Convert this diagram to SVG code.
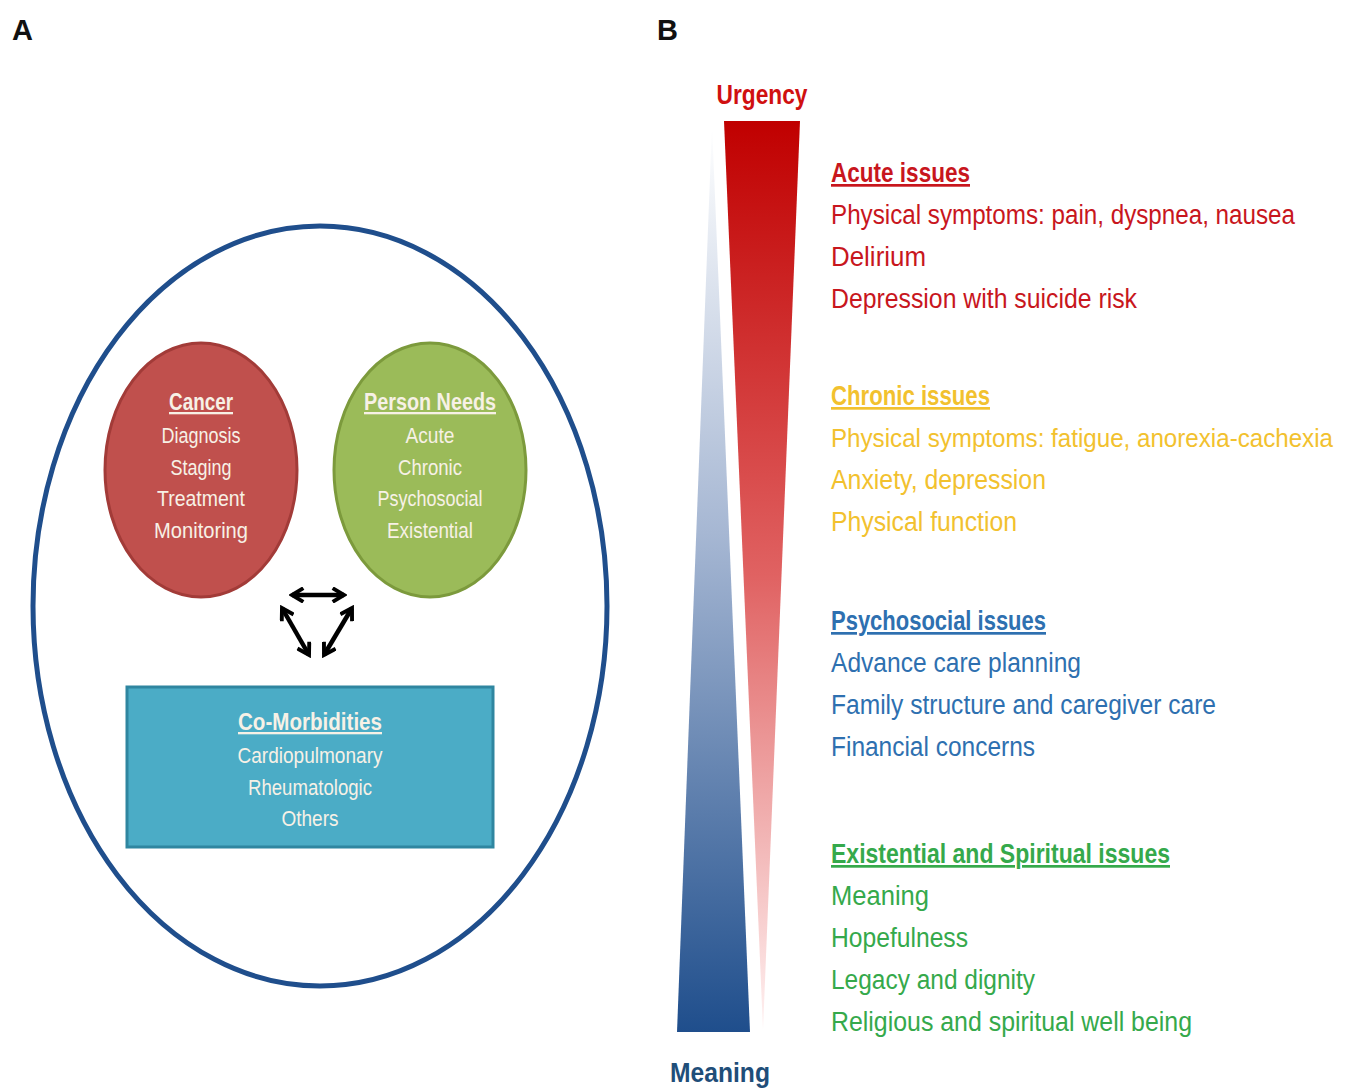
<svg xmlns="http://www.w3.org/2000/svg" width="1358" height="1088" viewBox="0 0 1358 1088">
<defs>
<linearGradient id="redG" x1="0" y1="0" x2="0" y2="1">
<stop offset="0" stop-color="#C00000"/>
<stop offset="0.5" stop-color="#E06262"/>
<stop offset="1" stop-color="#FFF2F2"/>
</linearGradient>
<linearGradient id="blueG" x1="0" y1="0" x2="0" y2="1">
<stop offset="0" stop-color="#FFFFFF"/>
<stop offset="0.45" stop-color="#A6B7D3"/>
<stop offset="1" stop-color="#1F4E8C"/>
</linearGradient>
<marker id="chev" viewBox="0 0 10 10" refX="8" refY="5" markerWidth="3.6" markerHeight="3.6" orient="auto-start-reverse">
<path d="M1,0.8 L8,5 L1,9.2" fill="none" stroke="#000" stroke-width="2.4" stroke-linejoin="miter"/>
</marker>
<style>
text{font-family:"Liberation Sans",Arial,sans-serif}
.lbl{font-weight:bold;font-size:29px;fill:#111}
.wt{fill:#F7F1E6;font-size:22px;text-anchor:middle}
.wth{fill:#F7F1E6;font-size:23px;text-anchor:middle;font-weight:bold;text-decoration:underline}
.r{font-size:27px}
.h{text-decoration:underline;font-weight:bold}
.red{fill:#C8161D}
.gold{fill:#F2C12E}
.blue{fill:#2E70B0}
.green{fill:#35A94B}
</style>
</defs>
<rect width="1358" height="1088" fill="#FFFFFF"/>

<text class="lbl" x="12" y="40">A</text>
<text class="lbl" x="657" y="40">B</text>

<g id="frame">
<ellipse cx="320" cy="606" rx="287" ry="380" fill="none" stroke="#1F4E8C" stroke-width="5"/>
</g>

<g id="cancer">
<ellipse cx="201" cy="470" rx="96" ry="127" fill="#C0504D" stroke="#A23B38" stroke-width="3"/>
<text class="wth" x="201" y="410" textLength="64" lengthAdjust="spacingAndGlyphs">Cancer</text>
<text class="wt" x="201" y="443" textLength="79" lengthAdjust="spacingAndGlyphs">Diagnosis</text>
<text class="wt" x="201" y="475" textLength="61" lengthAdjust="spacingAndGlyphs">Staging</text>
<text class="wt" x="201" y="506" textLength="88" lengthAdjust="spacingAndGlyphs">Treatment</text>
<text class="wt" x="201" y="538" textLength="94" lengthAdjust="spacingAndGlyphs">Monitoring</text>
</g>

<g id="person-needs">
<ellipse cx="430" cy="470" rx="96" ry="127" fill="#9BBB59" stroke="#7C9A3C" stroke-width="3"/>
<text class="wth" x="430" y="410" textLength="132" lengthAdjust="spacingAndGlyphs">Person Needs</text>
<text class="wt" x="430" y="443" textLength="49" lengthAdjust="spacingAndGlyphs">Acute</text>
<text class="wt" x="430" y="475" textLength="64" lengthAdjust="spacingAndGlyphs">Chronic</text>
<text class="wt" x="430" y="506" textLength="105" lengthAdjust="spacingAndGlyphs">Psychosocial</text>
<text class="wt" x="430" y="538" textLength="86" lengthAdjust="spacingAndGlyphs">Existential</text>
</g>

<g id="comorbidities">
<rect x="127" y="687" width="366" height="160" fill="#4BACC6" stroke="#2F86A0" stroke-width="3"/>
<text class="wth" x="310" y="730" textLength="144" lengthAdjust="spacingAndGlyphs">Co-Morbidities</text>
<text class="wt" x="310" y="763" textLength="145" lengthAdjust="spacingAndGlyphs">Cardiopulmonary</text>
<text class="wt" x="310" y="795" textLength="124" lengthAdjust="spacingAndGlyphs">Rheumatologic</text>
<text class="wt" x="310" y="826" textLength="57" lengthAdjust="spacingAndGlyphs">Others</text>
</g>

<g id="connectors" stroke="#000" stroke-width="4.5" fill="none">
<line x1="292" y1="595" x2="344" y2="595" marker-start="url(#chev)" marker-end="url(#chev)"/>
<line x1="282" y1="608" x2="309" y2="655" marker-start="url(#chev)" marker-end="url(#chev)"/>
<line x1="352" y1="608" x2="324" y2="655" marker-start="url(#chev)" marker-end="url(#chev)"/>
</g>

<g id="scale">
<polygon points="712,125 750,1032 677,1032" fill="url(#blueG)"/>
<polygon points="724,121 800,121 763,1030" fill="url(#redG)"/>
<text x="762" y="104" text-anchor="middle" font-weight="bold" font-size="27" fill="#D01010" textLength="91" lengthAdjust="spacingAndGlyphs">Urgency</text>
<text x="720" y="1082" text-anchor="middle" font-weight="bold" font-size="27" fill="#1F4E79" textLength="100" lengthAdjust="spacingAndGlyphs">Meaning</text>
</g>

<g id="acute" class="r red">
<text class="h" x="831" y="182" textLength="139" lengthAdjust="spacingAndGlyphs">Acute issues</text>
<text x="831" y="224" textLength="464" lengthAdjust="spacingAndGlyphs">Physical symptoms: pain, dyspnea, nausea</text>
<text x="831" y="266" textLength="95" lengthAdjust="spacingAndGlyphs">Delirium</text>
<text x="831" y="308" textLength="306" lengthAdjust="spacingAndGlyphs">Depression with suicide risk</text>
</g>

<g id="chronic" class="r gold">
<text class="h" x="831" y="405" textLength="159" lengthAdjust="spacingAndGlyphs">Chronic issues</text>
<text x="831" y="447" font-size="25" textLength="502" lengthAdjust="spacingAndGlyphs">Physical symptoms: fatigue, anorexia-cachexia</text>
<text x="831" y="489" textLength="215" lengthAdjust="spacingAndGlyphs">Anxiety, depression</text>
<text x="831" y="531" textLength="186" lengthAdjust="spacingAndGlyphs">Physical function</text>
</g>

<g id="psychosocial" class="r blue">
<text class="h" x="831" y="630" textLength="215" lengthAdjust="spacingAndGlyphs">Psychosocial issues</text>
<text x="831" y="672" textLength="250" lengthAdjust="spacingAndGlyphs">Advance care planning</text>
<text x="831" y="714" textLength="385" lengthAdjust="spacingAndGlyphs">Family structure and caregiver care</text>
<text x="831" y="756" textLength="204" lengthAdjust="spacingAndGlyphs">Financial concerns</text>
</g>

<g id="existential" class="r green">
<text class="h" x="831" y="863" textLength="339" lengthAdjust="spacingAndGlyphs">Existential and Spiritual issues</text>
<text x="831" y="905" textLength="98" lengthAdjust="spacingAndGlyphs">Meaning</text>
<text x="831" y="947" textLength="137" lengthAdjust="spacingAndGlyphs">Hopefulness</text>
<text x="831" y="989" textLength="204" lengthAdjust="spacingAndGlyphs">Legacy and dignity</text>
<text x="831" y="1031" textLength="361" lengthAdjust="spacingAndGlyphs">Religious and spiritual well being</text>
</g>
</svg>
